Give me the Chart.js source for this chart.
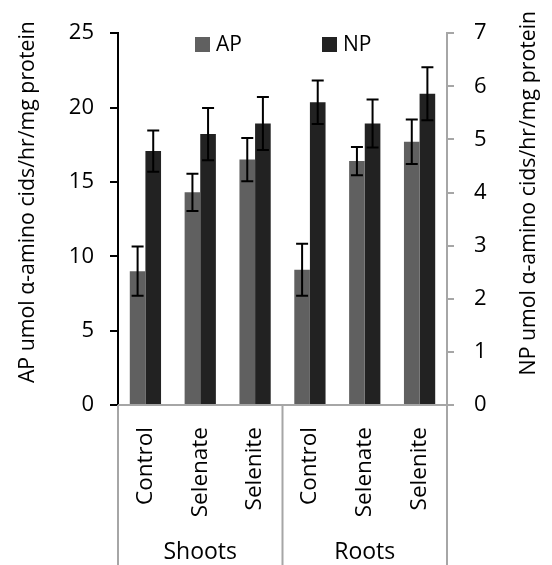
<!DOCTYPE html>
<html>
<head>
<meta charset="utf-8">
<script src="https://cdn.jsdelivr.net/npm/chart.js@4.4.1/dist/chart.umd.min.js"></script>
<style>
html, body { margin: 0; padding: 0; background: #fff; }
#wrap { width: 552px; height: 565px; }
</style>
</head>
<body>
<div id="wrap"><canvas id="enzyme"></canvas></div>
<script>
var treatments = ["Control", "Selenate", "Selenite", "Control", "Selenate", "Selenite"];
var tissues = ["Shoots", "Roots"];
var apValues = [9.0, 14.3, 16.5, 9.1, 16.4, 17.7];
var apErrors = [1.65, 1.25, 1.45, 1.75, 0.95, 1.5];
var npValues = [4.78, 5.1, 5.3, 5.7, 5.3, 5.86];
var npErrors = [0.39, 0.49, 0.5, 0.41, 0.45, 0.5];
var apTicks = [0, 5, 10, 15, 20, 25];
var npTicks = [0, 1, 2, 3, 4, 5, 6, 7];
var apTitle = "AP umol \u03b1-amino cids/hr/mg protein";
var npTitle = "NP umol \u03b1-amino cids/hr/mg protein";

var FONT = "'Open Sans', sans-serif";
var errors = [apErrors, npErrors];

var extras = {
  id: "extras",
  afterDatasetsDraw: function (chart) {
    var ctx = chart.ctx;
    ctx.save();
    // error bars
    chart.data.datasets.forEach(function (ds, i) {
      var meta = chart.getDatasetMeta(i);
      var scale = chart.scales[ds.yAxisID];
      meta.data.forEach(function (bar, j) {
        var v = ds.data[j], e = errors[i][j];
        var yt = scale.getPixelForValue(v + e), yb = scale.getPixelForValue(v - e);
        ctx.strokeStyle = "#000";
        ctx.lineWidth = 2;
        ctx.beginPath();
        ctx.moveTo(bar.x, yt); ctx.lineTo(bar.x, yb);
        ctx.moveTo(bar.x - 6, yt); ctx.lineTo(bar.x + 6, yt);
        ctx.moveTo(bar.x - 6, yb); ctx.lineTo(bar.x + 6, yb);
        ctx.stroke();
      });
    });
    var a = chart.chartArea;
    var x = chart.scales.x;
    // category axis and group separators
    ctx.strokeStyle = "#a6a6a6";
    ctx.lineWidth = 2;
    ctx.beginPath();
    ctx.moveTo(a.left, a.bottom); ctx.lineTo(a.right, a.bottom);
    var per = treatments.length / tissues.length;
    for (var g = 0; g <= tissues.length; g++) {
      var px = a.left + (a.right - a.left) * g / tissues.length;
      ctx.moveTo(px, a.bottom); ctx.lineTo(px, chart.height);
    }
    ctx.stroke();
    ctx.fillStyle = "#000";
    ctx.font = "23px " + FONT;
    ctx.textAlign = "center";
    ctx.textBaseline = "middle";
    tissues.forEach(function (t, g) {
      var c = (x.getPixelForValue(g * per) + x.getPixelForValue(g * per + per - 1)) / 2;
      ctx.fillText(t, c, 552);
    });
    // legend
    ctx.font = "21px " + FONT;
    ctx.textAlign = "left";
    var lx = [195, 322];
    chart.data.datasets.forEach(function (ds, i) {
      ctx.fillStyle = ds.backgroundColor;
      ctx.fillRect(lx[i], 37, 15, 15);
      ctx.fillStyle = "#000";
      ctx.fillText(ds.label, lx[i] + 21, 45);
    });
    // axis titles
    var mid = (a.top + a.bottom) / 2;
    ctx.font = "21.3px " + FONT;
    ctx.textAlign = "center";
    ctx.save();
    ctx.translate(28, mid - 17);
    ctx.rotate(-Math.PI / 2);
    ctx.fillText(apTitle, 0, 0);
    ctx.restore();
    ctx.save();
    ctx.translate(529, mid - 26);
    ctx.rotate(-Math.PI / 2);
    ctx.fillText(npTitle, 0, 0);
    ctx.restore();
    ctx.restore();
  }
};

new Chart("enzyme", {
  type: "bar",
  data: {
    labels: treatments,
    datasets: [
      { label: "AP", data: apValues, backgroundColor: "#606060", yAxisID: "yAP" },
      { label: "NP", data: npValues, backgroundColor: "#222222", yAxisID: "yNP" }
    ]
  },
  options: {
    responsive: true,
    maintainAspectRatio: false,
    animation: false,
    layout: { padding: { top: 23 } },
    categoryPercentage: 0.57,
    barPercentage: 1.0,
    plugins: { legend: { display: false }, tooltip: { enabled: false } },
    scales: {
      x: {
        grid: { display: false },
        border: { display: false },
        ticks: { minRotation: 90, maxRotation: 90, padding: 14, color: "#000", font: { family: FONT, size: 22.5 } },
        afterFit: function (s) { s.height = 160; }
      },
      yAP: {
        position: "left",
        min: apTicks[0], max: apTicks[apTicks.length - 1],
        ticks: { stepSize: apTicks[1] - apTicks[0], padding: 16, color: "#000", font: { family: FONT, size: 22 } },
        grid: { drawOnChartArea: false, tickLength: 8, color: "#000", lineWidth: 2 },
        border: { color: "#000", width: 2 },
        afterFit: function (s) { s.width = 118; }
      },
      yNP: {
        position: "right",
        min: npTicks[0], max: npTicks[npTicks.length - 1],
        ticks: { stepSize: npTicks[1] - npTicks[0], padding: 20, color: "#000", font: { family: FONT, size: 22 } },
        grid: { drawOnChartArea: false, tickLength: 7, color: "#a6a6a6", lineWidth: 2 },
        border: { color: "#a6a6a6", width: 2 },
        afterFit: function (s) { s.width = 105; }
      }
    }
  },
  plugins: [extras]
});
</script>
</body>
</html>
